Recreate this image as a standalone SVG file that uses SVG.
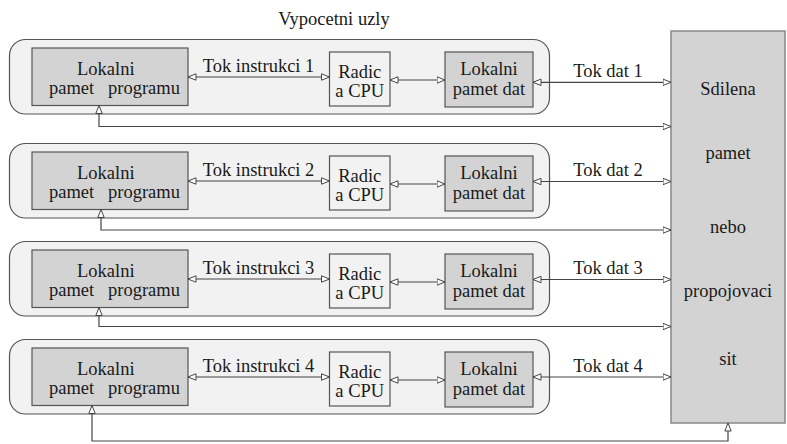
<svg xmlns="http://www.w3.org/2000/svg" width="787" height="444" viewBox="0 0 787 444" font-family="'Liberation Serif', 'Times New Roman', 'DejaVu Serif', serif">
<defs>
<style>
text{font-family:'Liberation Serif','Times New Roman','DejaVu Serif',serif;font-size:18.5px;fill:#1a1a1a}
.c{text-anchor:middle}
.grp{fill:#f2f2f2;stroke:#555;stroke-width:1.2}
.mem{fill:#d3d3d3;stroke:#555;stroke-width:1.2}
.cpu{fill:#f2f2f2;stroke:#555;stroke-width:1.2}
.shared{fill:#d3d3d3;stroke:#888;stroke-width:1.5}
.ln{fill:none;stroke:#444;stroke-width:1.2;marker-start:url(#ah);marker-end:url(#ah)}
</style>
<marker id="ah" viewBox="0 0 9 8" refX="8.5" refY="4" markerWidth="9" markerHeight="8" markerUnits="userSpaceOnUse" orient="auto-start-reverse">
<path d="M0.5,0.8 L8.5,4 L0.5,7.2 z" fill="#fff" stroke="#444" stroke-width="1"/>
</marker>
</defs>
<rect width="787" height="444" fill="#fff"/>
<text id="title" class="c" x="334" y="25">Vypocetni uzly</text>

<g id="node1">
<rect class="grp" x="9.5" y="39.5" width="540" height="74.5" rx="16"/>
<g id="prog1"><rect class="mem" x="32" y="48" width="156" height="57.5"/>
<text x="77" y="74.5">Lokalni</text><text x="49" y="93.5">pamet</text><text x="108" y="93.5">programu</text></g>
<g id="cpu1"><rect class="cpu" x="329.5" y="52" width="60.5" height="54"/>
<text class="c" x="359.75" y="78">Radic</text><text class="c" x="359.75" y="97">a CPU</text></g>
<g id="dat1"><rect class="mem" x="445" y="52" width="88" height="55"/>
<text class="c" x="489" y="74.5">Lokalni</text><text class="c" x="489" y="95">pamet dat</text></g>
</g>

<g id="node2">
<rect class="grp" x="9.5" y="143.5" width="540" height="74.5" rx="16"/>
<g id="prog2"><rect class="mem" x="32" y="152" width="156" height="57.5"/>
<text x="77" y="178.5">Lokalni</text><text x="49" y="197.5">pamet</text><text x="108" y="197.5">programu</text></g>
<g id="cpu2"><rect class="cpu" x="329.5" y="156" width="60.5" height="54"/>
<text class="c" x="359.75" y="182">Radic</text><text class="c" x="359.75" y="201">a CPU</text></g>
<g id="dat2"><rect class="mem" x="445" y="156" width="88" height="55"/>
<text class="c" x="489" y="178.5">Lokalni</text><text class="c" x="489" y="199">pamet dat</text></g>
</g>

<g id="node3">
<rect class="grp" x="9.5" y="241.5" width="540" height="74.5" rx="16"/>
<g id="prog3"><rect class="mem" x="32" y="250" width="156" height="57.5"/>
<text x="77" y="276.5">Lokalni</text><text x="49" y="295.5">pamet</text><text x="108" y="295.5">programu</text></g>
<g id="cpu3"><rect class="cpu" x="329.5" y="254" width="60.5" height="54"/>
<text class="c" x="359.75" y="280">Radic</text><text class="c" x="359.75" y="299">a CPU</text></g>
<g id="dat3"><rect class="mem" x="445" y="254" width="88" height="55"/>
<text class="c" x="489" y="276.5">Lokalni</text><text class="c" x="489" y="297">pamet dat</text></g>
</g>

<g id="node4">
<rect class="grp" x="9.5" y="339.5" width="540" height="74.5" rx="16"/>
<g id="prog4"><rect class="mem" x="32" y="348" width="156" height="57.5"/>
<text x="77" y="374.5">Lokalni</text><text x="49" y="393.5">pamet</text><text x="108" y="393.5">programu</text></g>
<g id="cpu4"><rect class="cpu" x="329.5" y="352" width="60.5" height="54"/>
<text class="c" x="359.75" y="378">Radic</text><text class="c" x="359.75" y="397">a CPU</text></g>
<g id="dat4"><rect class="mem" x="445" y="352" width="88" height="55"/>
<text class="c" x="489" y="374.5">Lokalni</text><text class="c" x="489" y="395">pamet dat</text></g>
</g>

<g id="shared">
<rect class="shared" x="671" y="31" width="114" height="392"/>
<text class="c" x="728" y="95">Sdilena</text>
<text class="c" x="728" y="159">pamet</text>
<text class="c" x="728" y="233">nebo</text>
<text class="c" x="728" y="297">propojovaci</text>
<text class="c" x="728" y="365">sit</text>
</g>

<g id="connectors">
<path class="ln" d="M188,77 H329.5"/>
<path class="ln" d="M390,80 H445"/>
<path class="ln" d="M533,82.3 H671"/>
<path class="ln" d="M671,126.5 H99 V105.5"/>
<text class="c" x="258.5" y="72">Tok instrukci 1</text>
<text class="c" x="608" y="77">Tok dat 1</text>

<path class="ln" d="M188,181 H329.5"/>
<path class="ln" d="M390,184 H445"/>
<path class="ln" d="M533,181.5 H671"/>
<path class="ln" d="M671,230 H101 V209.5"/>
<text class="c" x="258.5" y="176">Tok instrukci 2</text>
<text class="c" x="608" y="176">Tok dat 2</text>

<path class="ln" d="M188,279 H329.5"/>
<path class="ln" d="M390,282 H445"/>
<path class="ln" d="M533,279.5 H671"/>
<path class="ln" d="M671,326.5 H99 V307.5"/>
<text class="c" x="258.5" y="274">Tok instrukci 3</text>
<text class="c" x="608" y="274">Tok dat 3</text>

<path class="ln" d="M188,377 H329.5"/>
<path class="ln" d="M390,380 H445"/>
<path class="ln" d="M533,377 H671"/>
<path class="ln" d="M728,423 V441 H92 V405.5"/>
<text class="c" x="258.5" y="372">Tok instrukci 4</text>
<text class="c" x="608" y="372">Tok dat 4</text>
</g>
</svg>
